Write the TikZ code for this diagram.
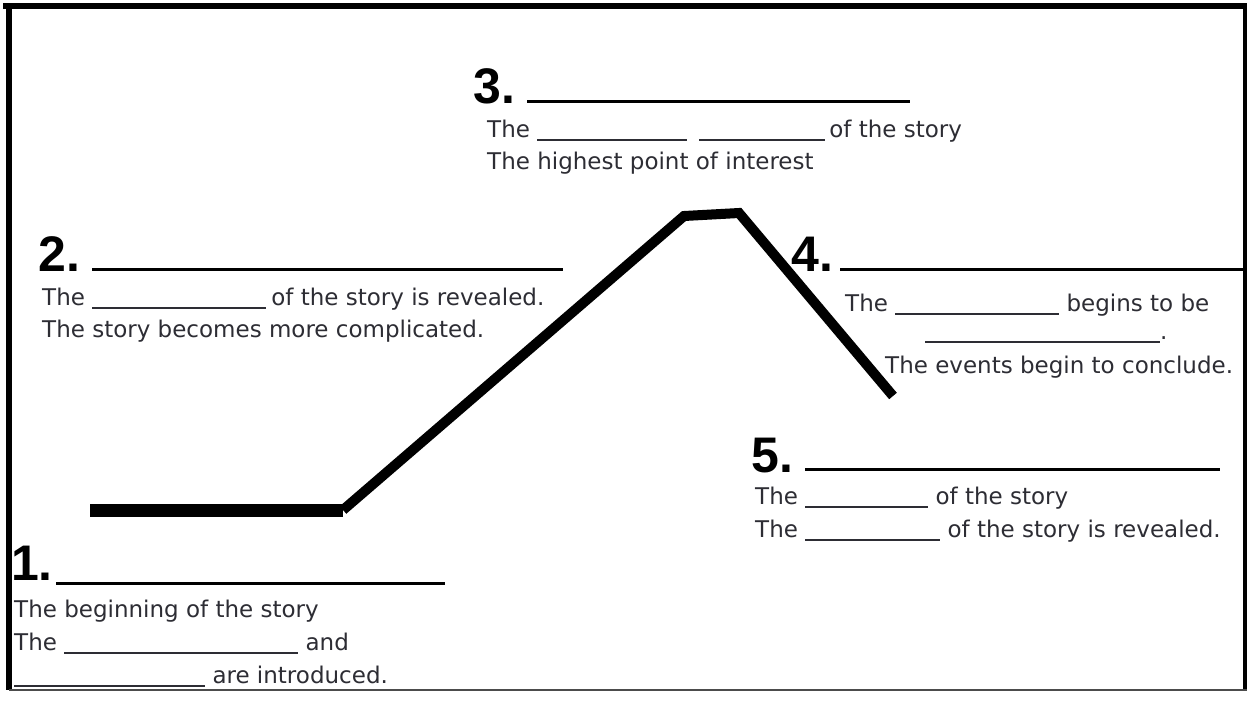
\documentclass[tikz,border=0pt]{standalone}
\usepackage{fontspec}
\setmainfont{DejaVu Sans}
\newfontfamily\numfont{Liberation Sans}
\definecolor{inkgray}{RGB}{45,45,52}
\newcommand\fillin[1]{\rule[-4pt]{#1pt}{1.6pt}}

\begin{document}
\begin{tikzpicture}[
  x=1pt, y=-1pt,
  every node/.style={anchor=base west, inner sep=0pt},
  txt/.style={font=\fontsize{23}{28}\selectfont, text=inkgray},
  num/.style={font=\numfont\bfseries\fontsize{50}{58}\selectfont},
  headline/.style={line width=3pt},
  frame/.style={line width=6pt},
  plot/.style={line width=10pt}
]
\useasboundingbox (0,0) rectangle (1247,702);
\fill[white] (0,0) rectangle (1247,702);

% frame
\draw[frame] (3,6) -- (1247,6);
\draw[frame] (9,3) -- (9,690);
\draw[line width=5pt] (1245,3) -- (1245,690);
\draw[gray!60!black, line width=2pt] (9,690) -- (1247,690);

% plot line
\coordinate (start) at (90,510);
\coordinate (rise) at (343,510);
\coordinate (peak) at (684,216);
\coordinate (turn) at (739,213);
\coordinate (fall) at (893,396);
\draw[line width=13pt] (start) -- (rise);
\draw[plot] (rise) -- (peak) -- (turn) -- (fall);

% 3
\node[num] (n3) at (473,103) {3.};
\draw[headline] (527,101) -- (910,101);
\node[txt] (t3a) at (487,137) {The \fillin{150}\hspace{12pt}\fillin{126}\hspace{4pt}of the story};
\node[txt] (t3b) at (487,169) {The highest point of interest};

% 2
\node[num] (n2) at (38,271) {2.};
\draw[headline] (92,269) -- (563,269);
\node[txt] (t2a) at (42,305) {The \fillin{174}\hspace{5pt}of the story is revealed.};
\node[txt] (t2b) at (42,337) {The story becomes more complicated.};

% 4
\node[num] (n4) at (791,271) {4.};
\draw[headline] (840,269) -- (1247,269);
\node[txt] (t4a) at (845,311) {The \fillin{164} begins to be};
\node[txt] (t4b) at (925,339) {\fillin{235}.};
\node[txt] (t4c) at (885,373) {The events begin to conclude.};

% 5
\node[num] (n5) at (751,472) {5.};
\draw[headline] (805,469) -- (1220,469);
\node[txt] (t5a) at (755,504) {The \fillin{123} of the story};
\node[txt] (t5b) at (755,537) {The \fillin{135} of the story is revealed.};

% 1
\node[num] (n1) at (11,580) {1.};
\draw[headline] (56,583) -- (445,583);
\node[txt] (t1a) at (14,617) {The beginning of the story};
\node[txt] (t1b) at (14,650) {The \fillin{234} and};
\node[txt] (t1c) at (14,683) {\fillin{191} are introduced.};
\end{tikzpicture}
\end{document}
